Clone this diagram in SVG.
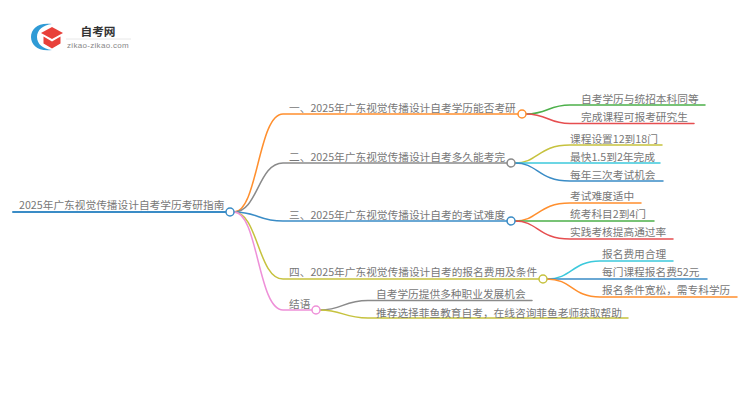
<svg xmlns="http://www.w3.org/2000/svg" width="750" height="410" viewBox="0 0 750 410">
<style>
text{font-family:"Noto Sans CJK SC","Noto Sans",sans-serif;font-size:10.7px;fill:#777}
.c{fill:none;stroke-width:1.5;stroke-linecap:round}
.d{fill:#fff;stroke-width:1.5}
.or{stroke:#ff8f2e}.gy{stroke:#8a8a8a}.bl{stroke:#3a8cc6}.ol{stroke:#c6c23e}.pk{stroke:#ee90d8}.gn{stroke:#4cb04a}.rd{stroke:#e64e50}.cy{stroke:#3cc9dc}
</style>
<rect width="750" height="410" fill="#fff"/>
<g id="logo">
<path d="M52 24C38 22 31 29 31 37C31 45 38 52 52 50C43 49 37 44 37 37C37 30 43 25 52 24Z" fill="#2f9bd6"/>
<path d="M52 27L63 33L52 39L41 33Z" fill="#e8403a"/>
<path d="M43.500 36.500L52 41.500L60.500 36.500V43.500L52 48.500L43.500 43.500Z" fill="#e8403a"/>
<text x="98" y="36" text-anchor="middle" style="font-size:11.700px;font-weight:700;fill:#333">自考网</text>
<path d="M66 39H131" stroke="#e2e2e2" stroke-width="0.800"/>
<text x="98" y="48" text-anchor="middle" style="font-family:'Liberation Sans',sans-serif;font-size:8px;letter-spacing:0.300px;fill:#888">zikao-zikao.com</text>
</g>
<g id="connectors">
<path class="c bl" style="stroke-width:2" d="M13 212H226"/>
<path class="c or" d="M234 212C258 212 258 114 283 114H518"/>
<path class="c gy" d="M234 212C258 212 258 163 283 163H507"/>
<path class="c bl" d="M234 212C258 212 258 221 283 221H507"/>
<path class="c ol" d="M234 212C258 212 258 279 283 279H539"/>
<path class="c pk" d="M234 212C258 212 258 310 283 310H312"/>
<path class="c gn" d="M526 114C548 114 548 105 570 105H705"/>
<path class="c rd" d="M526 114C548 114 548 123.500 570 123.500H694"/>
<path class="c ol" d="M515 163C538 163 538 145 570 145H662"/>
<path class="c cy" d="M515 163H660"/>
<path class="c bl" d="M515 163C538 163 538 181 570 181H663"/>
<path class="c or" d="M515 221C538 221 538 203 570 203H641"/>
<path class="c gn" d="M515 221H654"/>
<path class="c rd" d="M515 221C538 221 538 239 570 239H673"/>
<path class="c cy" d="M547 279C572 279 572 261 600 261H673"/>
<path class="c bl" d="M547 279H707"/>
<path class="c or" d="M547 279C572 279 572 297 600 297H737"/>
<path class="c gy" d="M320 310C343 310 343 300.500 368 300.500H532"/>
<path class="c ol" d="M320 310C343 310 343 318 368 318H628"/>
</g>
<g id="root"><text x="19" y="209">2025年广东视觉传播设计自考学历考研指南</text><circle class="d bl" cx="230" cy="212" r="4"/></g>
<g id="b1"><text x="289" y="111.500">一、2025年广东视觉传播设计自考学历能否考研</text><circle class="d or" cx="522" cy="114" r="4"/></g>
<g id="b2"><text x="289" y="160.500">二、2025年广东视觉传播设计自考多久能考完</text><circle class="d gy" cx="511" cy="163" r="4"/></g>
<g id="b3"><text x="289" y="218.500">三、2025年广东视觉传播设计自考的考试难度</text><circle class="d bl" cx="511" cy="221" r="4"/></g>
<g id="b4"><text x="289" y="276">四、2025年广东视觉传播设计自考的报名费用及条件</text><circle class="d ol" cx="543" cy="279" r="4"/></g>
<g id="b5"><text x="289" y="308">结语</text><circle class="d pk" cx="316" cy="310" r="4"/></g>
<g id="n11"><text x="581" y="103">自考学历与统招本科同等</text></g>
<g id="n12"><text x="581" y="121">完成课程可报考研究生</text></g>
<g id="n21"><text x="570" y="142.500">课程设置12到18门</text></g>
<g id="n22"><text x="570" y="160.500">最快1.5到2年完成</text></g>
<g id="n23"><text x="570" y="179">每年三次考试机会</text></g>
<g id="n31"><text x="570" y="200">考试难度适中</text></g>
<g id="n32"><text x="570" y="218">统考科目2到4门</text></g>
<g id="n33"><text x="570" y="236">实践考核提高通过率</text></g>
<g id="n41"><text x="602" y="258">报名费用合理</text></g>
<g id="n42"><text x="602" y="276">每门课程报名费52元</text></g>
<g id="n43"><text x="602" y="294">报名条件宽松，需专科学历</text></g>
<g id="n51"><text x="376" y="298">自考学历提供多种职业发展机会</text></g>
<g id="n52"><text x="376" y="316.500">推荐选择菲鱼教育自考，在线咨询菲鱼老师获取帮助</text></g>
</svg>
